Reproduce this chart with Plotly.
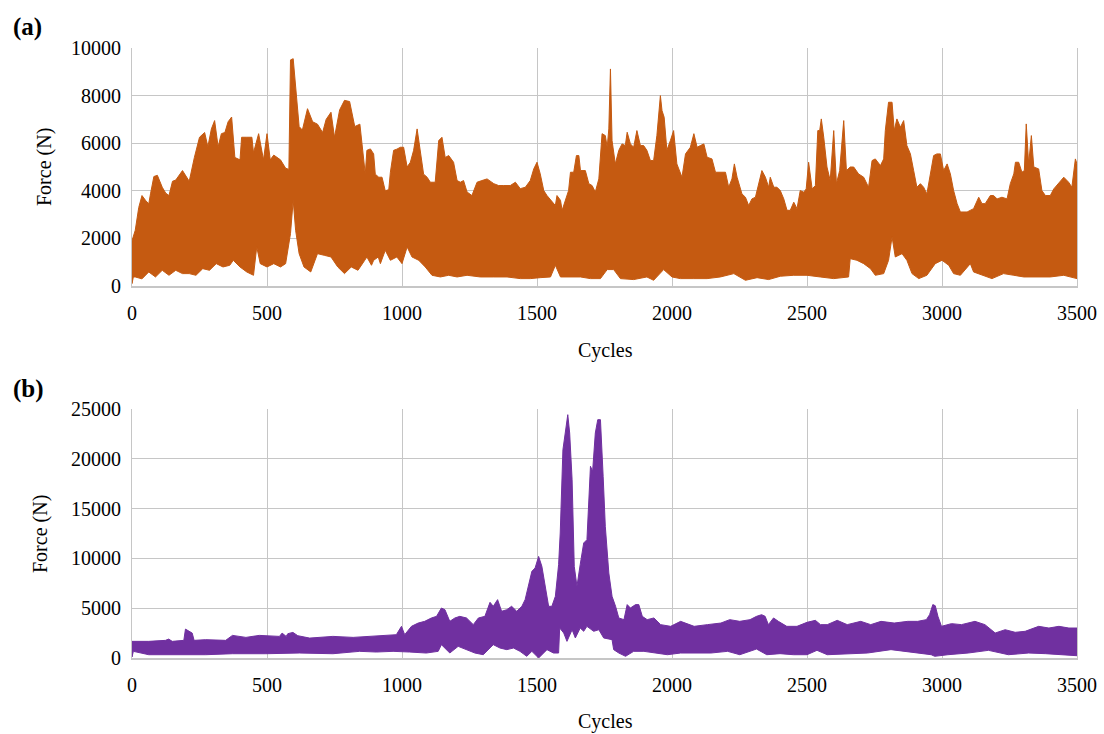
import plotly.graph_objects as go

# ---- Panel (a): force envelope (upper / lower peaks) vs. cycles ----
a_upper_cycles = [0, 12, 25, 37, 50, 62, 69, 81, 94, 112, 125, 137, 150, 162, 187, 212, 231, 250, 269, 281,
                  294, 306, 319, 331, 344, 356, 369, 381, 400, 406, 425, 444, 450, 469, 487, 500, 512, 525,
                  550, 569, 581, 587, 597, 606, 619, 631, 650, 669, 687, 706, 719, 737, 750, 769, 787, 806,
                  825, 844, 852, 864, 870, 883, 895, 901, 914, 926, 938, 951, 957, 969, 981, 994, 1006, 1019,
                  1031, 1043, 1056, 1068, 1080, 1093, 1105, 1123, 1136, 1148, 1160, 1173, 1185, 1191, 1204,
                  1216, 1228, 1241, 1259, 1278, 1296, 1315, 1340, 1358, 1377, 1401, 1420, 1438, 1457, 1475,
                  1488, 1500, 1512, 1525, 1537, 1556, 1568, 1574, 1587, 1593, 1605, 1617, 1624, 1636, 1646,
                  1655, 1661, 1679, 1692, 1704, 1716, 1729, 1741, 1753, 1760, 1766, 1772, 1778, 1790, 1803,
                  1815, 1827, 1834, 1846, 1858, 1870, 1883, 1895, 1907, 1920, 1932, 1944, 1957, 1963, 1971,
                  1981, 1994, 2006, 2018, 2037, 2050, 2068, 2081, 2093, 2105, 2118, 2130, 2148, 2161, 2179,
                  2198, 2210, 2222, 2231, 2241, 2259, 2272, 2284, 2296, 2309, 2321, 2333, 2346, 2358, 2364,
                  2377, 2389, 2401, 2414, 2426, 2438, 2451, 2463, 2475, 2488, 2497, 2506, 2519, 2531, 2540,
                  2547, 2553, 2562, 2574, 2586, 2599, 2609, 2621, 2636, 2646, 2660, 2673, 2691, 2710, 2728,
                  2741, 2753, 2772, 2784, 2790, 2802, 2815, 2823, 2833, 2846, 2858, 2870, 2883, 2895, 2907,
                  2920, 2932, 2944, 2954, 2969, 2981, 2994, 3006, 3019, 3031, 3043, 3056, 3068, 3093, 3117,
                  3136, 3148, 3160, 3179, 3191, 3204, 3222, 3241, 3253, 3266, 3272, 3284, 3296, 3305, 3312,
                  3321, 3331, 3340, 3358, 3370, 3383, 3401, 3414, 3432, 3451, 3469, 3481, 3494, 3500]
a_upper_force = [1900, 2340, 3300, 3800, 3600, 3450, 3900, 4600, 4650, 4150, 3900, 3800, 4400, 4450, 4850, 4400,
                 5400, 6250, 6450, 5850, 6600, 6950, 5850, 6400, 6450, 6900, 7100, 5400, 5300, 6250, 6250, 6250,
                 5600, 6400, 5300, 6400, 5300, 5500, 5300, 4950, 4900, 9500, 9550, 8350, 6700, 6550, 7450, 6900,
                 6800, 6450, 7000, 7300, 6250, 7400, 7800, 7750, 6700, 6800, 6050, 4700, 5700, 5760, 5550, 4700,
                 4570, 4570, 4000, 4050, 4780, 5700, 5750, 5830, 5830, 5000, 5200, 5700, 6600, 5550, 4700, 4570,
                 4360, 4360, 6110, 6250, 5400, 5480, 5270, 5200, 4430, 4360, 4430, 3950, 3800, 4360, 4430, 4500,
                 4300, 4220, 4220, 4220, 4360, 4090, 4150, 4430, 4920, 5200, 4710, 4010, 3800, 3520, 3380, 3800,
                 3600, 3180, 3600, 4010, 4780, 4780, 5480, 5480, 4850, 4850, 4300, 4220, 3950, 4500, 6400, 6320,
                 5830, 6600, 9120, 6110, 5130, 5700, 5970, 5900, 6460, 5970, 5830, 6530, 5900, 5900, 5700, 5270,
                 5270, 6320, 8000, 7370, 7090, 5700, 6110, 6530, 5130, 4570, 5550, 5830, 6400, 5830, 5900, 5970,
                 5410, 5340, 4780, 4780, 4780, 4150, 4500, 5130, 4570, 3870, 3730, 3380, 3660, 3730, 4360, 4850,
                 4570, 4150, 4570, 4150, 4150, 4010, 3660, 3180, 3180, 3520, 3250, 4010, 3940, 4080, 5200, 4080,
                 4220, 6530, 6530, 7020, 6250, 5000, 4430, 6530, 4300, 4850, 6950, 4850, 5000, 5000, 4710, 4570,
                 4150, 5270, 5340, 5060, 5340, 6530, 7720, 7720, 6530, 7020, 6670, 6950, 5900, 5550, 4850, 4150,
                 4300, 4150, 3870, 4500, 5480, 5550, 5550, 4850, 5130, 4710, 4010, 3460, 3110, 3110, 3250, 3730,
                 3460, 3460, 3800, 3800, 3660, 3730, 3660, 4300, 4710, 5200, 5200, 4780, 4850, 6810, 5130, 6320,
                 5000, 4920, 4010, 3800, 3800, 4080, 4300, 4570, 4360, 4150, 5340, 5130]

a_lower_cycles = [0, 5, 12, 37, 62, 87, 112, 137, 162, 187, 212, 237, 262, 287, 312, 337, 362, 375, 400, 425,
                  450, 462, 475, 500, 525, 550, 569, 587, 597, 606, 619, 637, 662, 687, 712, 737, 762, 787,
                  812, 837, 846, 862, 870, 887, 895, 912, 920, 938, 957, 981, 1000, 1019, 1037, 1062, 1086,
                  1111, 1142, 1173, 1204, 1241, 1290, 1340, 1389, 1438, 1475, 1512, 1550, 1568, 1587, 1624,
                  1661, 1698, 1735, 1760, 1784, 1809, 1858, 1907, 1932, 1969, 2000, 2031, 2081, 2130, 2179,
                  2229, 2272, 2315, 2358, 2401, 2451, 2500, 2549, 2599, 2654, 2660, 2685, 2710, 2735, 2753,
                  2784, 2802, 2815, 2827, 2852, 2870, 2889, 2914, 2944, 2975, 3000, 3025, 3043, 3068, 3105,
                  3117, 3154, 3185, 3228, 3266, 3303, 3352, 3401, 3451, 3500]
a_lower_force = [100, 380, 380, 300, 590, 380, 660, 450, 660, 520, 520, 450, 730, 660, 940, 800, 870, 1080, 800,
                 590, 450, 1640, 940, 800, 940, 800, 940, 2200, 3600, 2340, 1360, 800, 590, 1360, 1290, 1220,
                 800, 520, 800, 660, 800, 1080, 1220, 870, 1080, 1220, 940, 1500, 1080, 1220, 940, 1640, 1220,
                 1080, 800, 450, 380, 450, 380, 450, 380, 380, 380, 310, 310, 350, 380, 870, 380, 380, 380, 310,
                 310, 690, 690, 310, 270, 380, 240, 690, 380, 310, 310, 310, 380, 520, 240, 350, 270, 410, 450,
                 450, 380, 310, 380, 1150, 1080, 940, 730, 450, 520, 1080, 2060, 1220, 1360, 1080, 520, 310, 450,
                 940, 1080, 870, 520, 450, 940, 590, 450, 310, 520, 450, 380, 380, 380, 450, 310]

# ---- Panel (b): force envelope (upper / lower peaks) vs. cycles ----
b_upper_cycles = [0, 62, 124, 136, 149, 192, 198, 211, 223, 230, 273, 347, 372, 422, 471, 546, 556, 571, 577,
                  596, 614, 658, 744, 819, 843, 892, 942, 979, 998, 1010, 1035, 1060, 1084, 1109, 1128, 1146,
                  1159, 1177, 1196, 1214, 1239, 1264, 1283, 1307, 1326, 1338, 1354, 1369, 1388, 1406, 1425,
                  1444, 1456, 1468, 1481, 1493, 1506, 1518, 1530, 1543, 1555, 1568, 1580, 1586, 1596, 1605,
                  1614, 1621, 1630, 1638, 1648, 1660, 1673, 1685, 1698, 1706, 1716, 1725, 1735, 1745, 1753,
                  1766, 1778, 1791, 1803, 1822, 1834, 1846, 1865, 1877, 1890, 1908, 1933, 1958, 1995, 2032,
                  2082, 2131, 2181, 2214, 2251, 2289, 2313, 2332, 2345, 2357, 2376, 2394, 2425, 2463, 2500,
                  2531, 2550, 2575, 2612, 2649, 2699, 2736, 2774, 2823, 2873, 2910, 2942, 2954, 2966, 2975,
                  2985, 2998, 3035, 3072, 3122, 3159, 3197, 3234, 3271, 3308, 3358, 3396, 3433, 3470, 3500]
b_upper_force = [1670, 1670, 1770, 1900, 1670, 1770, 2900, 2670, 2500, 1770, 1840, 1770, 2270, 2070, 2270, 2170,
                 2500, 2170, 2440, 2570, 2240, 2000, 2170, 2070, 2110, 2240, 2340, 2340, 3180, 2340, 3180, 3510,
                 3680, 4020, 4180, 5020, 4850, 3680, 4020, 4180, 4020, 3350, 4020, 4180, 5590, 5190, 5860, 4690,
                 4850, 5190, 4690, 5190, 5860, 7200, 8700, 9040, 10200, 9200, 7200, 5190, 5190, 6190, 9370,
                 12550, 20900, 22590, 24430, 22590, 17900, 9200, 7200, 9370, 11550, 11880, 19250, 18740, 22590,
                 23930, 23930, 18240, 13220, 8530, 6190, 5190, 4020, 3850, 5360, 5020, 5360, 5360, 4180, 3850,
                 4020, 3350, 3180, 3680, 3180, 3350, 3510, 3850, 3680, 3850, 4180, 4350, 4180, 3350, 4020, 3680,
                 3180, 3180, 3580, 3780, 3350, 3350, 3780, 3350, 3680, 3350, 3680, 3510, 3680, 3680, 3850, 4350,
                 5360, 5250, 4180, 3180, 3450, 3350, 3680, 3350, 2510, 2840, 2580, 2680, 3180, 3010, 3180, 3010,
                 3010]

b_lower_cycles = [0, 5, 62, 124, 198, 273, 372, 496, 620, 744, 843, 905, 967, 1028, 1090, 1134, 1146, 1159,
                  1177, 1208, 1239, 1270, 1301, 1338, 1363, 1388, 1413, 1437, 1462, 1481, 1506, 1518, 1537,
                  1561, 1580, 1584, 1599, 1611, 1630, 1642, 1660, 1673, 1685, 1710, 1729, 1747, 1778, 1784,
                  1803, 1828, 1858, 1896, 1933, 1983, 2032, 2082, 2144, 2206, 2251, 2313, 2351, 2400, 2450,
                  2500, 2537, 2575, 2649, 2724, 2811, 2898, 2960, 2973, 3022, 3097, 3172, 3246, 3321, 3383,
                  3458, 3500]
b_lower_force = [100, 670, 330, 330, 330, 330, 430, 430, 500, 430, 670, 600, 670, 600, 500, 670, 1340, 1000, 500,
                 1170, 840, 500, 330, 1340, 1000, 840, 1000, 670, 170, 670, 0, 330, 840, 500, 500, 3010, 2510,
                 1670, 2840, 2010, 3010, 2680, 3180, 2680, 2840, 2010, 1840, 840, 500, 170, 670, 670, 500, 330,
                 500, 500, 500, 670, 330, 900, 330, 435, 330, 330, 770, 330, 435, 500, 840, 570, 330, 170, 330,
                 500, 770, 330, 500, 435, 330, 230]

x_ticks = [0, 500, 1000, 1500, 2000, 2500, 3000, 3500]
a_y_ticks = [0, 2000, 4000, 6000, 8000, 10000]
b_y_ticks = [0, 5000, 10000, 15000, 20000, 25000]

ORANGE = "#C55A11"
PURPLE = "#7030A0"
GRID = "#C6C6C6"
FONT = "Liberation Serif"

W, H = 1104, 734
PX_L, PX_R = 132, 1077


def band(up_x, up_y, lo_x, lo_y):
    """Closed polygon running along the upper envelope and back along the lower one."""
    xs = list(up_x) + list(reversed(lo_x))
    ys = list(up_y) + list(reversed(lo_y))
    return xs + [xs[0]], ys + [ys[0]]


fig = go.Figure()

xa, ya = band(a_upper_cycles, a_upper_force, a_lower_cycles, a_lower_force)
fig.add_trace(go.Scatter(x=xa, y=ya, mode="lines", fill="toself", fillcolor=ORANGE,
                         line=dict(color=ORANGE, width=1), xaxis="x", yaxis="y",
                         hoverinfo="skip", showlegend=False))

xb, yb = band(b_upper_cycles, b_upper_force, b_lower_cycles, b_lower_force)
fig.add_trace(go.Scatter(x=xb, y=yb, mode="lines", fill="toself", fillcolor=PURPLE,
                         line=dict(color=PURPLE, width=1), xaxis="x2", yaxis="y2",
                         hoverinfo="skip", showlegend=False))


def py(px):
    return 1 - px / H


xdom = [PX_L / W, PX_R / W]
tickfont = dict(family=FONT, size=20, color="black")
titlefont = dict(family=FONT, size=20, color="black")
labelfont = dict(family=FONT, size=25, color="black")

common_x = dict(range=[0, 3500], tickvals=x_ticks, tickformat="d", showgrid=True, gridcolor=GRID,
                gridwidth=1, showline=True, linecolor=GRID, linewidth=2, zeroline=False,
                ticks="outside", ticklen=8, tickcolor="rgba(0,0,0,0)", tickfont=tickfont,
                domain=xdom, automargin=False)
common_y = dict(showgrid=True, gridcolor=GRID, gridwidth=1, showline=True, linecolor=GRID,
                linewidth=1, mirror=True, zeroline=False, tickformat="d", ticks="outside",
                ticklen=6, tickcolor="rgba(0,0,0,0)", tickfont=tickfont, automargin=False)

fig.update_layout(
    width=W, height=H,
    margin=dict(l=0, r=0, t=0, b=0),
    paper_bgcolor="white", plot_bgcolor="white",
    xaxis=dict(**common_x, anchor="y"),
    yaxis=dict(**common_y, range=[0, 10000], tickvals=a_y_ticks,
               domain=[py(286), py(48)], anchor="x"),
    xaxis2=dict(**common_x, anchor="y2"),
    yaxis2=dict(**common_y, range=[0, 25000], tickvals=b_y_ticks,
                domain=[py(658), py(409)], anchor="x2"),
    annotations=[
        dict(text="<b>(a)</b>", x=11 / W, y=py(27), xref="paper", yref="paper", xanchor="left",
             yanchor="middle", showarrow=False, font=labelfont),
        dict(text="<b>(b)</b>", x=11 / W, y=py(389), xref="paper", yref="paper", xanchor="left",
             yanchor="middle", showarrow=False, font=labelfont),
        dict(text="Force (N)", x=45 / W, y=py(167), xref="paper", yref="paper", textangle=-90,
             xanchor="center", yanchor="middle", showarrow=False, font=titlefont),
        dict(text="Force (N)", x=40 / W, y=py(534), xref="paper", yref="paper", textangle=-90,
             xanchor="center", yanchor="middle", showarrow=False, font=titlefont),
        dict(text="Cycles", x=605 / W, y=py(350), xref="paper", yref="paper",
             xanchor="center", yanchor="middle", showarrow=False, font=titlefont),
        dict(text="Cycles", x=605 / W, y=py(721), xref="paper", yref="paper",
             xanchor="center", yanchor="middle", showarrow=False, font=titlefont),
    ],
)

fig.write_html("out.html", config={"responsive": False},
               post_script="document.body.style.margin='0';document.body.style.overflow='hidden';")
